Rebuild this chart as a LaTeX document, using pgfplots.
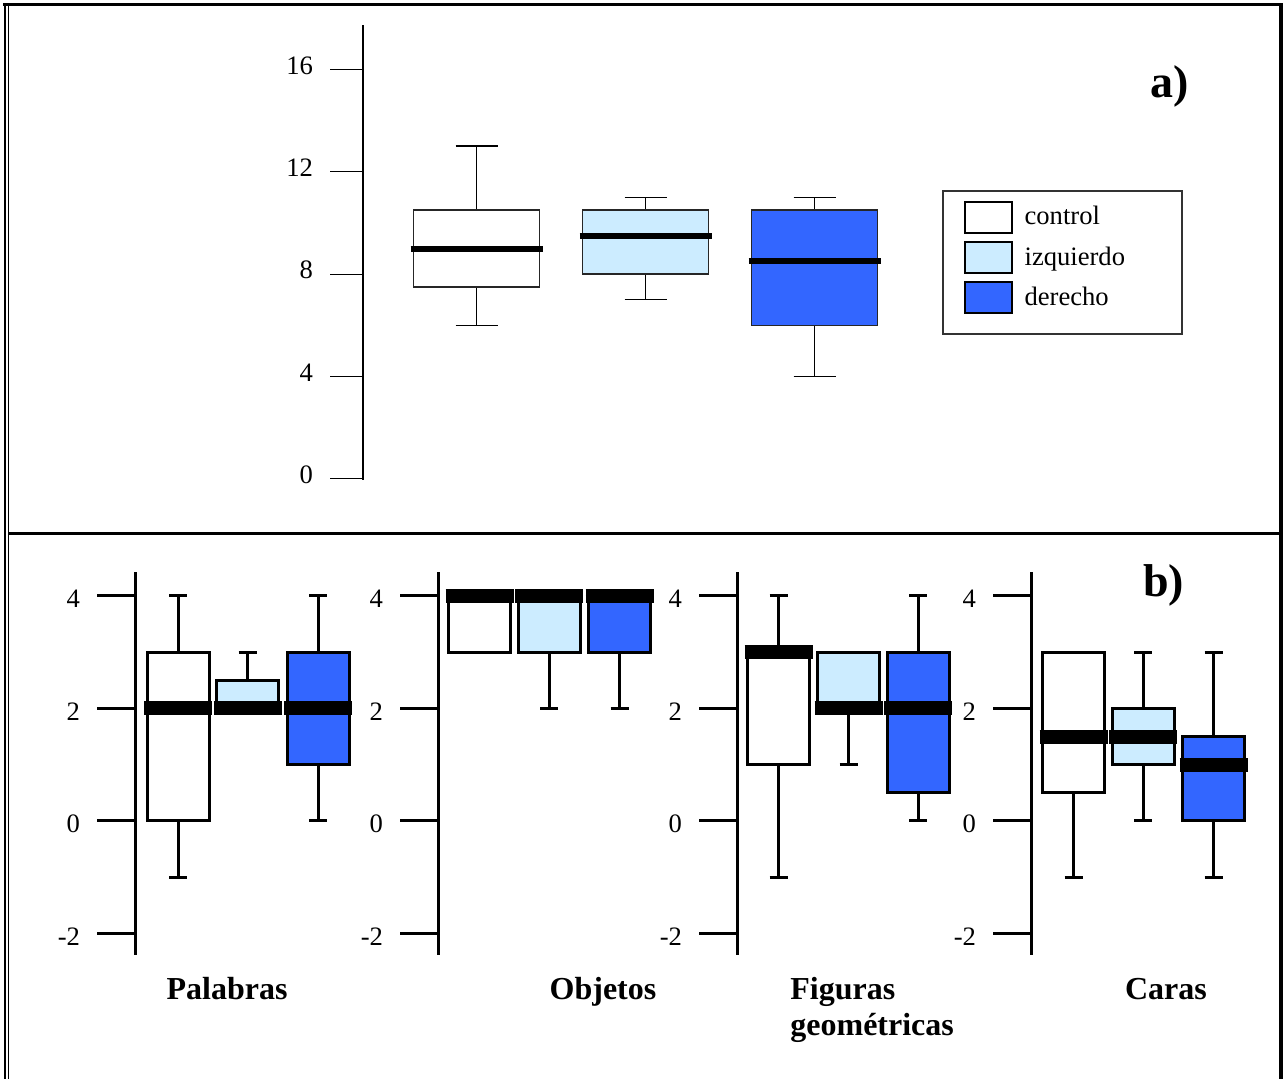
\documentclass[border=0pt]{standalone}
\usepackage{fontspec}
\setmainfont{Liberation Serif}
\usepackage{pgfplots}
\pgfplotsset{compat=1.18}
\usepgfplotslibrary{statistics}
\definecolor{lblue}{HTML}{CCECFF}
\definecolor{dblue}{HTML}{3366FF}
% color, pos, lower whisker, lower quartile, median, upper quartile, upper whisker
\newcommand{\bp}[7]{%
  \addplot[forget plot, draw=black, fill=#1,
    boxplot prepared={draw direction=y, draw position=#2, lower whisker=#3, lower quartile=#4,
      median=#5, upper quartile=#6, upper whisker=#7}] coordinates {};}
\pgfplotsset{
  panelb/.style={
    anchor=south west, x=5pt, y=28.15pt, xmin=0, xmax=22, ymin=-2.38, ymax=4.42,
    axis x line=none, axis y line*=left,
    axis line style={line width=1.5pt, -},
    ytick={-2,0,2,4}, yticklabels={-2,0,2,4},
    tick align=outside, major tick length=19pt,
    tick style={line width=1.5pt, black},
    yticklabel style={font=\fontsize{13.3}{15}\selectfont, xshift=-5pt, yshift=-1.5pt},
    clip=false,
    boxplot/draw direction=y,
    boxplot/box extend=6.2, boxplot/whisker extend=1.8,
    boxplot/every box/.style={line width=1.5pt},
    boxplot/every whisker/.style={line width=1.5pt},
    boxplot/every median/.style={line width=7pt, shorten <=-1.5pt, shorten >=-1.5pt},
  }
}
\begin{document}
\begin{tikzpicture}
\useasboundingbox (0,0) rectangle (642pt,539.5pt);
% frame
\draw[line width=1.5pt] (1.5pt,537pt) -- (641.5pt,537pt);
\draw[line width=1.2pt] (2.5pt,537.7pt) -- (2.5pt,0pt);
\draw[line width=0.9pt] (4.2pt,536.3pt) -- (4.2pt,0pt);
\draw[line width=2pt] (640.7pt,537.7pt) -- (640.7pt,0pt);
\draw[line width=1.4pt] (4.2pt,272.8pt) -- (640.7pt,272.8pt);

% panel a
\begin{axis}[
  at={(181.5pt,299.5pt)}, anchor=south west,
  x=5pt, y=12.8pt, xmin=0, xmax=87.7, ymin=-0.04, ymax=17.73,
  axis x line=none, axis y line*=left,
  axis line style={line width=0.7pt, -},
  ytick={0,4,8,12,16}, yticklabels={0,4,8,12,16},
  tick align=outside, major tick length=16.5pt,
  tick style={line width=0.5pt, black},
  yticklabel style={font=\fontsize{13.3}{15}\selectfont, xshift=-5pt, yshift=2pt},
  clip=false,
  boxplot/draw direction=y,
  boxplot/box extend=12.6, boxplot/whisker extend=4.2,
  boxplot/every box/.style={line width=0.75pt, draw=black!85},
  boxplot/every whisker/.style={line width=0.7pt},
  boxplot/every median/.style={line width=3pt, shorten <=-1.5pt, shorten >=-1.5pt},
  legend cell align=left,
  legend style={at={(0.6602,0.6374)}, anchor=north west, draw=black!80,
    line width=0.8pt, font=\fontsize{13.3}{15}\selectfont,
    inner xsep=10.5pt, inner ysep=5pt, row sep=3.7pt},
]
\bp{white}{11.35}{6}{7.5}{9}{10.5}{13}
\bp{lblue}{28.25}{7}{8}{9.5}{10.5}{11}
\bp{dblue}{45.15}{4}{6}{8.5}{10.5}{11}
\addlegendimage{legend image code/.code={\draw[black, line width=0.9pt, fill=white] (0pt,-7.75pt) rectangle (23.5pt,7.75pt);}}
\addlegendentry{\hspace{4pt}control}
\addlegendimage{legend image code/.code={\draw[black, line width=0.9pt, fill=lblue] (0pt,-7.75pt) rectangle (23.5pt,7.75pt);}}
\addlegendentry{\hspace{4pt}izquierdo\rule{16pt}{0pt}}
\addlegendimage{legend image code/.code={\draw[black, line width=0.9pt, fill=dblue] (0pt,-7.75pt) rectangle (23.5pt,7.75pt); \path (0pt,-12.7pt);}}
\addlegendentry{\hspace{4pt}derecho}
\end{axis}

% panel b
\begin{axis}[panelb, at={(67.5pt,62pt)}]
\bp{white}{4.3}{-1}{0}{2}{3}{4}
\bp{lblue}{11.25}{2}{2}{2}{2.5}{3}
\bp{dblue}{18.3}{0}{1}{2}{3}{4}
\end{axis}
\begin{axis}[panelb, at={(219pt,62pt)}]
\bp{white}{4.15}{3}{3}{4}{4}{4}
\bp{lblue}{11.1}{2}{3}{4}{4}{4}
\bp{dblue}{18.15}{2}{3}{4}{4}{4}
\end{axis}
\begin{axis}[panelb, at={(368.5pt,62pt)}]
\bp{white}{4.15}{-1}{1}{3}{3}{4}
\bp{lblue}{11.15}{1}{2}{2}{3}{3}
\bp{dblue}{18.1}{0}{0.5}{2}{3}{4}
\end{axis}
\begin{axis}[panelb, at={(515.5pt,62pt)}]
\bp{white}{4.25}{-1}{0.5}{1.5}{3}{3}
\bp{lblue}{11.2}{0}{1}{1.5}{2}{3}
\bp{dblue}{18.25}{-1}{0}{1}{1.5}{3}
\end{axis}

% labels
\node[font=\fontsize{23}{26}\selectfont\bfseries, anchor=base west, inner sep=0pt] at (575pt,490.5pt) {a)};
\node[font=\fontsize{23}{26}\selectfont\bfseries, anchor=base west, inner sep=0pt] at (571.5pt,241pt) {b)};
\begin{scope}[every node/.style={font=\fontsize{16}{18}\selectfont\bfseries, inner sep=0pt}]
\node[anchor=base] at (113.5pt,39.5pt) {Palabras};
\node[anchor=base] at (301.5pt,39.5pt) {Objetos};
\node[anchor=base west] at (395pt,39.5pt) {Figuras};
\node[anchor=base west] at (395pt,21.5pt) {geométricas};
\node[anchor=base] at (583pt,39.5pt) {Caras};
\end{scope}
\end{tikzpicture}
\end{document}
